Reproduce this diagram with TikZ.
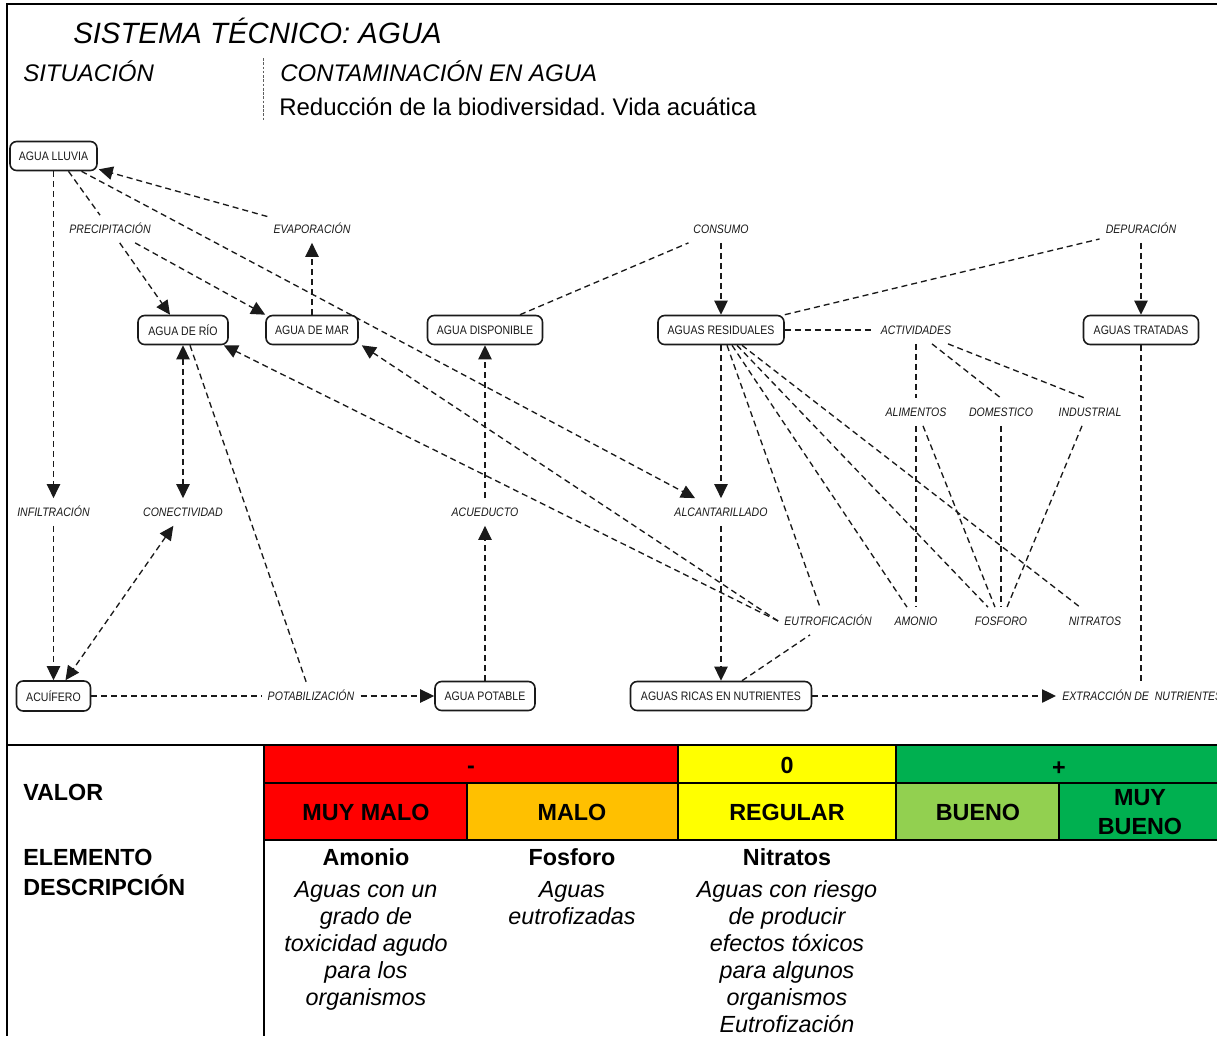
\documentclass[tikz,border=0pt]{standalone}
\usepackage{fontspec}
\setmainfont{Liberation Sans}
\newfontfamily\dfont[FakeStretch=0.86]{Liberation Sans}
\usetikzlibrary{arrows.meta,calc}
\definecolor{cred}{HTML}{FF0000}
\definecolor{corange}{HTML}{FFC000}
\definecolor{cyellow}{HTML}{FFFF00}
\definecolor{clgreen}{HTML}{92D050}
\definecolor{cgreen}{HTML}{00B050}
\definecolor{ink}{HTML}{1A1A1A}
\frenchspacing
\tikzset{
  box/.style={draw=ink, line width=1.2pt, rounded corners=5pt, minimum height=21.75pt, inner sep=0pt,
    font=\dfont\fontsize{9.2}{10}\selectfont, text=ink},
  lbl/.style={font=\dfont\itshape\fontsize{9.2}{10}\selectfont, text=ink, inner xsep=4.5pt, inner ysep=7pt,
    text height=6.4pt, text depth=0pt},
  conn/.style={draw=ink, line width=1pt, dash pattern=on 4.5pt off 3pt},
  arr/.style={conn, -{Triangle[length=10.5pt,width=10pt]}},
  darr/.style={conn, {Triangle[length=10.5pt,width=10pt]}-{Triangle[length=10.5pt,width=10pt]}},
  frame/.style={line width=1.8pt, draw=black},
  hdr/.style={font=\itshape\fontsize{18}{20}\selectfont, anchor=base west, inner sep=0pt},
  cellt/.style={font=\bfseries\fontsize{17.5}{19}\selectfont, inner sep=0pt, anchor=base},
  cellh/.style={font=\bfseries\fontsize{17.5}{19}\selectfont, inner sep=0pt, anchor=base west},
  desc/.style={font=\itshape\fontsize{17.5}{20}\selectfont, inner sep=0pt, anchor=base},
}
\begin{document}
\begin{tikzpicture}[x=0.75pt,y=-0.75pt]
\useasboundingbox (0,0) rectangle (1217,1036);
\fill[white] (0,0) rectangle (1217,1036);

% ---------- table fills ----------
\fill[cred] (264,745) rectangle (678,783);
\fill[cyellow] (678,745) rectangle (896,783);
\fill[cgreen] (896,745) rectangle (1217,783);
\fill[cred] (264,783) rectangle (467,840);
\fill[corange] (467,783) rectangle (678,840);
\fill[cyellow] (678,783) rectangle (896,840);
\fill[clgreen] (896,783) rectangle (1059,840);
\fill[cgreen] (1059,783) rectangle (1217,840);
\draw[line width=0.8pt] (264,783) -- (1217,783);
\draw[line width=0.8pt] (467,783) -- (467,840);
\draw[line width=0.8pt] (678,745) -- (678,840);
\draw[line width=0.8pt] (896,745) -- (896,840);
\draw[line width=1.3pt] (1059,783) -- (1059,840);
\draw[line width=1.6pt] (264,840) -- (1059,840);
\draw[line width=0.8pt] (1059,840) -- (1217,840);

% ---------- frame ----------
\draw[frame] (7,4) -- (1217,4);
\draw[frame] (7,3) -- (7,1036);
\draw[frame] (7,745) -- (1217,745);
\draw[line width=1.5pt] (264,745) -- (264,1036);

% ---------- header ----------
\node[hdr, font=\itshape\fontsize{22}{24}\selectfont] (title) at (73,43.5) {SISTEMA TÉCNICO: AGUA};
\node[hdr] (sit) at (23,81.5) {SITUACIÓN};
\node[hdr] (cont) at (280,81.5) {CONTAMINACIÓN EN AGUA};
\node[hdr, font=\fontsize{18}{20}\selectfont] (red) at (279,115) {Reducción de la biodiversidad. Vida acuática};
\draw[ink!70, line width=0.6pt, dash pattern=on 2pt off 1.2pt] (263,58) -- (263,120);

% ---------- boxes ----------
\node[box, minimum width=65.25pt] (lluvia) at (53.5,156) {AGUA LLUVIA};
\node[box, minimum width=67.5pt] (rio) at (183,330) {AGUA DE RÍO};
\node[box, minimum width=69pt] (mar) at (312,330) {AGUA DE MAR};
\node[box, minimum width=86.25pt] (disp) at (485,330) {AGUA DISPONIBLE};
\node[box, minimum width=94.5pt] (resid) at (721,330) {AGUAS RESIDUALES};
\node[box, minimum width=86.25pt] (trat) at (1141,330) {AGUAS TRATADAS};
\node[box, minimum width=55.5pt, minimum height=22.5pt] (acuif) at (53.5,696) {ACUÍFERO};
\node[box, minimum width=75pt] (potable) at (485,696) {AGUA POTABLE};
\node[box, minimum width=135.75pt] (ricas) at (721,696) {AGUAS RICAS EN NUTRIENTES};

% ---------- labels ----------
\node[lbl] (precip) at (110,229) {PRECIPITACIÓN};
\node[lbl] (evap) at (312,229) {EVAPORACIÓN};
\node[lbl] (consumo) at (721,229) {CONSUMO};
\node[lbl] (depur) at (1141,229) {DEPURACIÓN};
\node[lbl] (activ) at (916,330) {ACTIVIDADES};
\node[lbl] (alim) at (916,412) {ALIMENTOS};
\node[lbl] (domes) at (1001,412) {DOMESTICO};
\node[lbl] (indus) at (1090,412) {INDUSTRIAL};
\node[lbl] (infil) at (53.5,512) {INFILTRACIÓN};
\node[lbl] (conec) at (183,512) {CONECTIVIDAD};
\node[lbl] (acued) at (485,512) {ACUEDUCTO};
\node[lbl] (alcan) at (721,512) {ALCANTARILLADO};
\node[lbl] (eutro) at (828,621) {EUTROFICACIÓN};
\node[lbl] (amonio) at (916,621) {AMONIO};
\node[lbl] (fosforo) at (1001,621) {FOSFORO};
\node[lbl] (nitratos) at (1095,621) {NITRATOS};
\node[lbl] (potab) at (311,696) {POTABILIZACIÓN};
\node[lbl, anchor=west] (extrac) at (1056,696) {EXTRACCIÓN DE\ \ NUTRIENTES};

% ---------- connectors ----------
\draw[arr] (lluvia.south) -- (infil);
\draw[arr] (infil) -- (acuif);
\draw[conn] ($(lluvia.south)+(15,0)$) -- (precip);
\draw[arr] (precip) -- ($(rio.north)+(-13,0)$);
\draw[arr] (precip) -- (mar.north west);
\draw[arr] (evap) -- ($(lluvia.south east)+(1,-2)$);
\draw[arr] (mar) -- (evap);
\draw[arr] ($(lluvia.south)+(28,0)$) -- (alcan);
\draw[darr] (rio) -- (conec);
\draw[darr] (conec) -- ($(acuif.north)+(12,0)$);
\draw[conn] ($(rio.south)+(7,0)$) -- (potab);
\draw[conn] (acuif) -- (potab);
\draw[arr] (potab) -- (potable);
\draw[arr] (potable) -- (acued);
\draw[arr] (acued) -- (disp);
\draw[conn] ($(disp.north)+(35,0)$) -- (consumo);
\draw[arr] (consumo) -- (resid);
\draw[conn] (resid.north east) -- (depur);
\draw[arr] (depur) -- (trat);
\draw[conn] (resid) -- (activ);
\draw[conn] (activ) -- (alim);
\draw[conn] ($(activ.south)+(16,0)$) -- (domes.north);
\draw[conn] ($(activ.south)+(32,0)$) -- ($(indus.north)+(-5,0)$);
\draw[arr] (resid) -- (alcan);
\draw[arr] (alcan) -- (ricas);
\draw[arr] (eutro.west) -- ($(rio.south east)+(-5,0)$);
\draw[arr] (eutro.west) -- ($(mar.south east)+(3,0)$);
\draw[conn] ($(ricas.north)+(21,0)$) -- ($(eutro.south)+(-18,0)$);
\draw[conn] ($(resid.south)+(6,0)$) -- ($(eutro.north)+(-8,0)$);
\draw[conn] ($(resid.south)+(11,0)$) -- ($(amonio.north)+(-9,0)$);
\draw[conn] ($(resid.south)+(16,0)$) -- ($(fosforo.north)+(-13,0)$);
\draw[conn] ($(resid.south)+(21,0)$) -- ($(nitratos.north)+(-15,0)$);
\draw[conn] (alim) -- (amonio);
\draw[conn] ($(alim.south)+(7,0)$) -- ($(fosforo.north)+(-6,0)$);
\draw[conn] (domes) -- (fosforo);
\draw[conn] ($(indus.south)+(-8,0)$) -- ($(fosforo.north)+(6,0)$);
\draw[conn] (trat) -- (trat.south |- extrac.north);
\draw[arr] (ricas) -- (extrac);

% ---------- table text ----------
\node[cellh] (valor) at (23,800.5) {VALOR};
\node[cellh] (elem) at (23,865) {ELEMENTO};
\node[cellh] (descr) at (23,895) {DESCRIPCIÓN};
\node[cellt] (neg) at (471,773.4) {-};
\node[cellt] (cero) at (787,773.4) {0};
\node[cellt] (pos) at (1059,775) {+};
\node[cellt] (mm) at (366,820.4) {MUY MALO};
\node[cellt] (ma) at (572,820.4) {MALO};
\node[cellt] (re) at (787,820.4) {REGULAR};
\node[cellt] (bu) at (978,820.4) {BUENO};
\node[cellt] (mb1) at (1140,805) {MUY};
\node[cellt] (mb2) at (1140,834) {BUENO};
\node[cellt] (amo) at (366,865) {Amonio};
\node[cellt] (fos) at (572,865) {Fosforo};
\node[cellt] (nit) at (787,865) {Nitratos};
\foreach [count=\i] \t in {Aguas con un, grado de, toxicidad agudo, para los, organismos}
  \node[desc] (da\i) at (366,{897+27*(\i-1)}) {\t};
\foreach [count=\i] \t in {Aguas, eutrofizadas}
  \node[desc] (df\i) at (572,{897+27*(\i-1)}) {\t};
\foreach [count=\i] \t in {Aguas con riesgo, de producir, efectos tóxicos, para algunos, organismos, Eutrofización}
  \node[desc] (dn\i) at (787,{897+27*(\i-1)}) {\t};
\end{tikzpicture}
\end{document}
